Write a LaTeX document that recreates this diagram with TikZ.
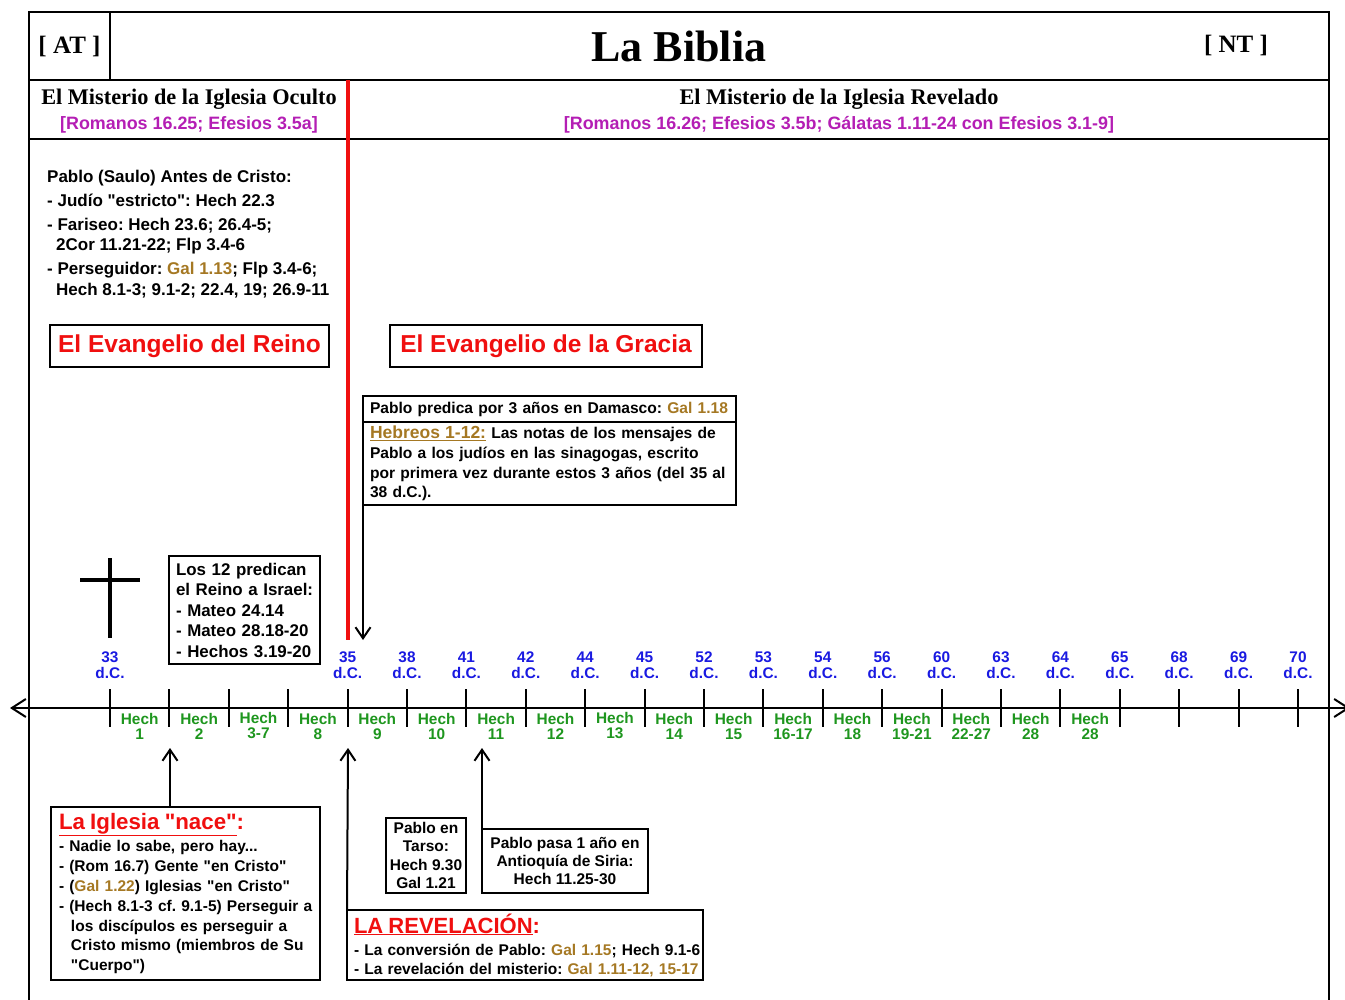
\documentclass[tikz,border=0pt]{standalone}
\usepackage{fontspec}
\setmainfont{Liberation Sans}[Ligatures=TeXOff]
\newfontfamily\tnr{Liberation Serif}[Ligatures=TeXOff]
\usetikzlibrary{arrows.meta}
\definecolor{mag}{RGB}{180,30,180}
\definecolor{gold}{RGB}{165,120,35}
\definecolor{yblue}{RGB}{25,25,225}
\definecolor{hgreen}{RGB}{30,150,30}
\definecolor{bred}{RGB}{240,15,15}
\newcommand\myfs[2]{\fontsize{#1}{#2}\selectfont\bfseries\frenchspacing}
\newcommand\myser[2]{\tnr\bfseries\fontsize{#1}{#2}\selectfont}
\newcommand\myline[1]{\mbox{#1}}
\tikzset{
  frame/.style={line width=2.4pt},
  box/.style={draw, line width=2pt, inner ysep=0pt, outer sep=0pt},
  arr/.style={line width=2pt, -{Straight Barb[length=11pt,width=15pt]}},
  axisln/.style={line width=2pt, {Straight Barb[length=14pt,width=18pt]}-{Straight Barb[length=14pt,width=18pt]}},
  tick/.style={line width=2pt},
  yearlbl/.style={text=yblue, align=center, inner sep=0pt, font=\myfs{15.4}{16}},
  hechlbl/.style={text=hgreen, align=center, inner sep=0pt, font=\myfs{15.4}{15}},
  plain/.style={inner sep=0pt},
}
\begin{document}
\frenchspacing
\begin{tikzpicture}[x=1pt,y=-1pt]
\useasboundingbox (0,0) rectangle (1345,1000);
% frame
\draw[frame] (29,1000) -- (29,12) -- (1329,12) -- (1329,1000);
\draw[frame] (29,80) -- (1329,80);
\draw[frame] (29,139) -- (1329,139);
\draw[frame] (110,12) -- (110,80);
\draw[bred, line width=3.5pt] (348,80) -- (348,640);
% headers
\node[plain, font=\myser{25}{30}] (atlbl) at (69.5,46.5) {[ AT ]};
\node[plain, font=\myser{44}{50}] (title) at (679,46) {La Biblia};
\node[plain, font=\myser{25}{30}] (ntlbl) at (1236,45.5) {[ NT ]};
\node[plain, font=\myser{22.3}{26}] (oculto) at (189,99) {El Misterio de la Iglesia Oculto};
\node[plain, text=mag, font=\myfs{17.9}{20}] (ocultoref) at (189,125) {[Romanos 16.25; Efesios 3.5a]};
\node[plain, font=\myser{22.3}{26}] (revelado) at (839,99) {El Misterio de la Iglesia Revelado};
\node[plain, text=mag, font=\myfs{17.9}{20}] (reveladoref) at (839,125) {[Romanos 16.26; Efesios 3.5b; Gálatas 1.11-24 con Efesios 3.1-9]};
% left text block
\node[plain, anchor=west, align=left, font=\myfs{17}{20.5}] (saulo) at (47,234) {Pablo (Saulo) Antes de Cristo:\\[3.5pt]
- Judío "estricto": Hech 22.3\\[3.5pt]
- Fariseo: Hech 23.6; 26.4-5;\\
\hspace*{9pt}2Cor 11.21-22; Flp 3.4-6\\[3.5pt]
- Perseguidor: \textcolor{gold}{Gal 1.13}; Flp 3.4-6;\\
\hspace*{9pt}Hech 8.1-3; 9.1-2; 22.4, 19; 26.9-11};
% evangelio boxes
\node[box, minimum width=279pt, minimum height=42pt, text=bred, font=\myfs{24.5}{28}] (reino) at (189.5,346) {El Evangelio del Reino};
\node[box, minimum width=312pt, minimum height=42pt, text=bred, font=\myfs{24.5}{28}] (gracia) at (546,346) {El Evangelio de la Gracia};
% predica boxes
\node[box, minimum height=26pt, text width=359pt, inner xsep=7pt, align=left, font=\myfs{15.6}{20}] (pred1) at (549.5,409) {\myline{Pablo predica por 3 años en Damasco: \textcolor{gold}{Gal 1.18}}};
\node[box, minimum height=83pt, text width=359pt, inner xsep=7pt, align=left, font=\myfs{15.6}{19.8}] (pred2) at (549.5,463.5) {\myline{{\color{gold}\fontsize{17.5}{20}\selectfont\underline{Hebreos 1-12:}} Las notas de los mensajes de}\\
\myline{Pablo a los judíos en las sinagogas, escrito}\\
\myline{por primera vez durante estos 3 años (del 35 al}\\
\myline{38 d.C.).}};
% cross
\draw[line width=4pt] (110,558) -- (110,638);
\draw[line width=4pt] (80,580) -- (140,580);
% Los 12 box
\node[box, minimum height=108pt, text width=137pt, inner xsep=7pt, align=left, font=\myfs{16.9}{20.5}] (los) at (244.5,610) {\myline{Los 12 predican}\\\myline{el Reino a Israel:}\\\myline{- Mateo 24.14}\\\myline{- Mateo 28.18-20}\\\myline{- Hechos 3.19-20}};
% axis
\coordinate (axL) at (10,708);
\coordinate (axR) at (1350,708);
\draw[axisln] (axL) -- (axR);
\foreach \k in {0,...,20} \draw[tick] ({110+59.4*\k},689) -- ({110+59.4*\k},727);
\foreach \k/\yr in {0/33,4/35,5/38,6/41,7/42,8/44,9/45,10/52,11/53,12/54,13/56,14/60,15/63,16/64,17/65,18/68,19/69,20/70}
  \node[yearlbl] (yr\k) at ({110+59.4*\k},665.5) {\yr\\d.C.};
\foreach \k/\h in {0/1,1/2,2/3-7,3/8,4/9,5/10,6/11,7/12,8/13,9/14,10/15,11/16-17,12/18,13/19-21,14/22-27,15/28,16/28}
  \node[hechlbl] (hech\k) at ({110+59.4*\k+29.7},726) {Hech\\\h};
% bottom boxes
\node[box, minimum height=173pt, text width=253pt, inner xsep=8pt, align=left, font=\myfs{15.5}{19.8}] (igl) at (185.5,893.5) {\myline{{\color{bred}\fontsize{22.3}{24}\selectfont\underline{La Iglesia "nace"}:}}\\[3pt]
\myline{- Nadie lo sabe, pero hay...}\\
\myline{- (Rom 16.7) Gente "en Cristo"}\\
\myline{- (\textcolor{gold}{Gal 1.22}) Iglesias "en Cristo"}\\
\myline{- (Hech 8.1-3 cf. 9.1-5) Perseguir a}\\
\myline{\hspace*{12pt}los discípulos es perseguir a}\\
\myline{\hspace*{12pt}Cristo mismo (miembros de Su}\\
\myline{\hspace*{12pt}"Cuerpo")}};
\node[box, minimum width=80pt, minimum height=75pt, inner xsep=0pt, align=center, font=\myfs{15.5}{18.3}] (tarso) at (426,855.5) {Pablo en\\Tarso:\\Hech 9.30\\Gal 1.21};
\node[box, minimum width=166pt, minimum height=64pt, inner xsep=0pt, align=center, font=\myfs{15.5}{18}] (pasa) at (565,861) {Pablo pasa 1 año en\\Antioquía de Siria:\\Hech 11.25-30};
\node[box, minimum height=70pt, text width=342pt, inner xsep=7pt, align=left, font=\myfs{15.5}{19}] (rev) at (525,945) {\myline{{\color{bred}\fontsize{22}{24}\selectfont\underline{LA REVELACIÓN}:}}\\[3pt]
\myline{- La conversión de Pablo: \textcolor{gold}{Gal 1.15}; Hech 9.1-6}\\
\myline{- La revelación del misterio: \textcolor{gold}{Gal 1.11-12, 15-17}}};
% arrows
\coordinate (tipA) at (363,640);
\coordinate (tipB) at (170,748);
\coordinate (tipC) at (348,748);
\coordinate (tipD) at (482,748);
\draw[arr] (pred2.south west) -- (tipA);
\draw[arr] (igl.north -| tipB) -- (tipB);
\draw[arr] (rev.north west) -- (tipC);
\draw[arr] (pasa.north west) -- (tipD);
\end{tikzpicture}
\end{document}
